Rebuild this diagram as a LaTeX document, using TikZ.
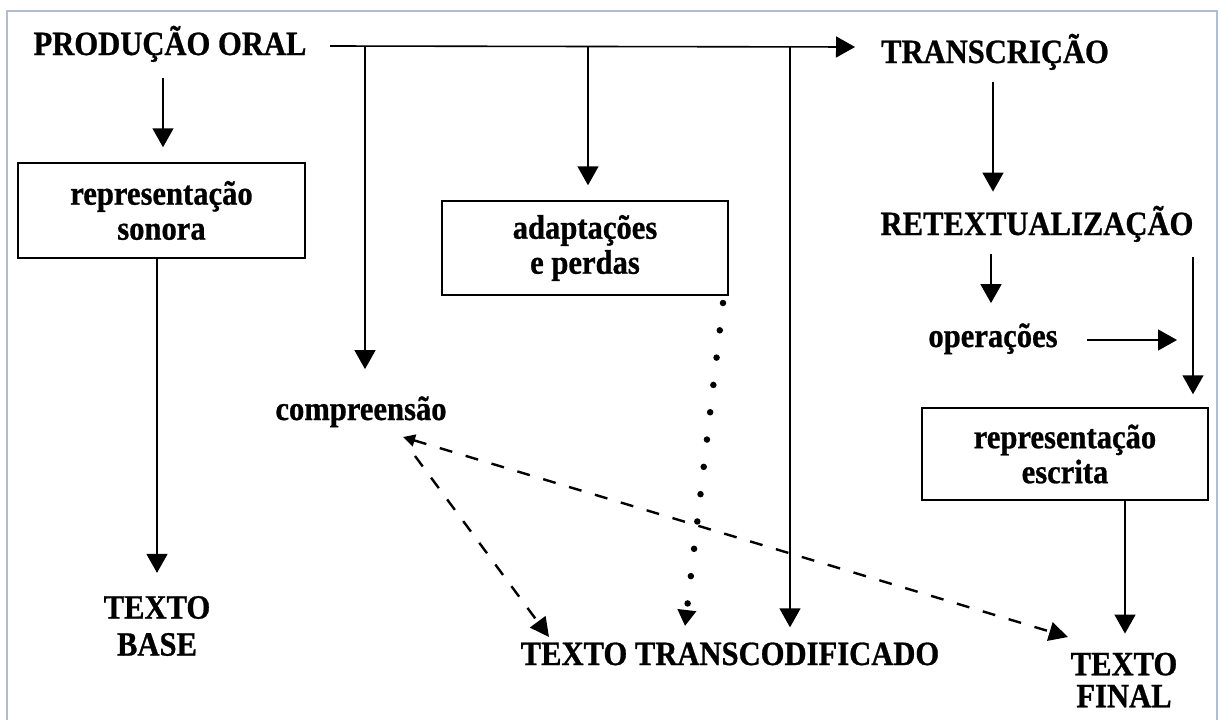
\documentclass[tikz,border=0pt]{standalone}
\usepackage{fontspec}
\setmainfont{Liberation Serif}[FakeStretch=0.9, BoldFeatures={FakeBold=0.8}]
\usetikzlibrary{arrows.meta,calc}
\begin{document}
\begin{tikzpicture}[x=1pt,y=-1pt,
  txt/.style={inner sep=0pt, font=\fontsize{34}{35}\selectfont\bfseries},
  boxed/.style={txt, draw, line width=1.5pt, align=center},
  arr/.style={line width=1.6pt, -{Triangle[length=19pt,width=21pt]}},
  dasharr/.style={line width=2.4pt, dash pattern=on 13pt off 14pt, -{Triangle[length=19pt,width=19pt]}},
  dotarr/.style={line width=6.5pt, line cap=round, dash pattern=on 0pt off 27.5pt, -{Triangle[length=16pt,width=18pt]}}
]
\useasboundingbox (0,0) rectangle (1219,720);
\draw[color={rgb,255:red,176;green,188;blue,208}, line width=2.5pt] (7,720) -- (7,11) -- (1217,11) -- (1217,720);

% text nodes
\node[txt, anchor=base] (po) at (170,55) {PRODUÇÃO ORAL};
\node[txt, anchor=base] (tr) at (995,63) {TRANSCRIÇÃO};
\node[txt, anchor=base] (ret) at (1037,235) {RETEXTUALIZAÇÃO};
\node[txt, anchor=base] (op) at (993,347) {operações};
\node[txt, anchor=base] (comp) at (361,420) {compreensão};
\node[txt, anchor=base] (ttc) at (730,665) {TEXTO TRANSCODIFICADO};
\node[txt, align=center, font=\fontsize{34}{37}\selectfont\bfseries] (tb) at (157,626) {TEXTO\\BASE};
\node[txt, align=center, font=\fontsize{34}{32}\selectfont\bfseries] (tf) at (1124,680) {TEXTO\\FINAL};

% boxes
\node[boxed, minimum width=287pt, minimum height=95pt] (son) at (161.5,210.5) {representação\\sonora};
\node[boxed, minimum width=286pt, minimum height=94pt] (adp) at (585,248) {adaptações\\e perdas};
\node[boxed, minimum width=286pt, minimum height=92pt] (esc) at (1065,454) {representação\\escrita};

% main horizontal line
\coordinate (ls) at (330,46);
\coordinate (le) at (855,47);
\coordinate (b1) at (365,46);
\coordinate (b2) at (588,46);
\coordinate (b3) at (790,46);
\draw[arr] (ls) -- (le);

% branches
\draw[arr, shorten >=27pt] (b1) -- (b1 |- comp.north);
\draw[arr, shorten >=15pt] (b2) -- (b2 |- adp.north);
\draw[arr, shorten >=15pt] (b3) -- (b3 |- ttc.north);

% left column
\draw[arr, shorten <=16pt, shorten >=15pt] (po.south -| 163,0) -- (son.north -| 163,0);
\draw[arr, shorten >=23pt] (son.south -| tb.north) -- (tb.north);

% right column
\draw[arr, shorten <=12pt, shorten >=14pt] (tr.south -| 993,0) -- (ret.north -| 993,0);
\draw[arr, shorten <=12pt, shorten >=20pt] (ret.south -| 991,0) -- (op.north -| 991,0);
\coordinate (opa) at (1087,340);
\coordinate (opb) at (1177,340);
\draw[arr] (opa) -- (opb);
\coordinate (rv) at (1193,257);
\draw[arr, shorten >=13pt] (rv) -- (rv |- esc.north);
\draw[arr, shorten >=19pt] (esc.south -| 1125,0) -- (tf.north -| 1125,0);

% dotted
\coordinate (dt1) at (723,303);
\coordinate (dt2) at (685,626);
\draw[dotarr] (dt1) -- (dt2);

% dashed
\coordinate (c1) at (403,437);
\coordinate (c2) at (415,456);
\coordinate (tt) at (549,637);
\coordinate (tfa) at (1068,637);
\draw[dasharr, {Triangle[length=12pt,width=12pt]}-{Triangle[length=19pt,width=19pt]}] (c1) -- (tfa);
\draw[dasharr] (c2) -- (tt);
\end{tikzpicture}
\end{document}
